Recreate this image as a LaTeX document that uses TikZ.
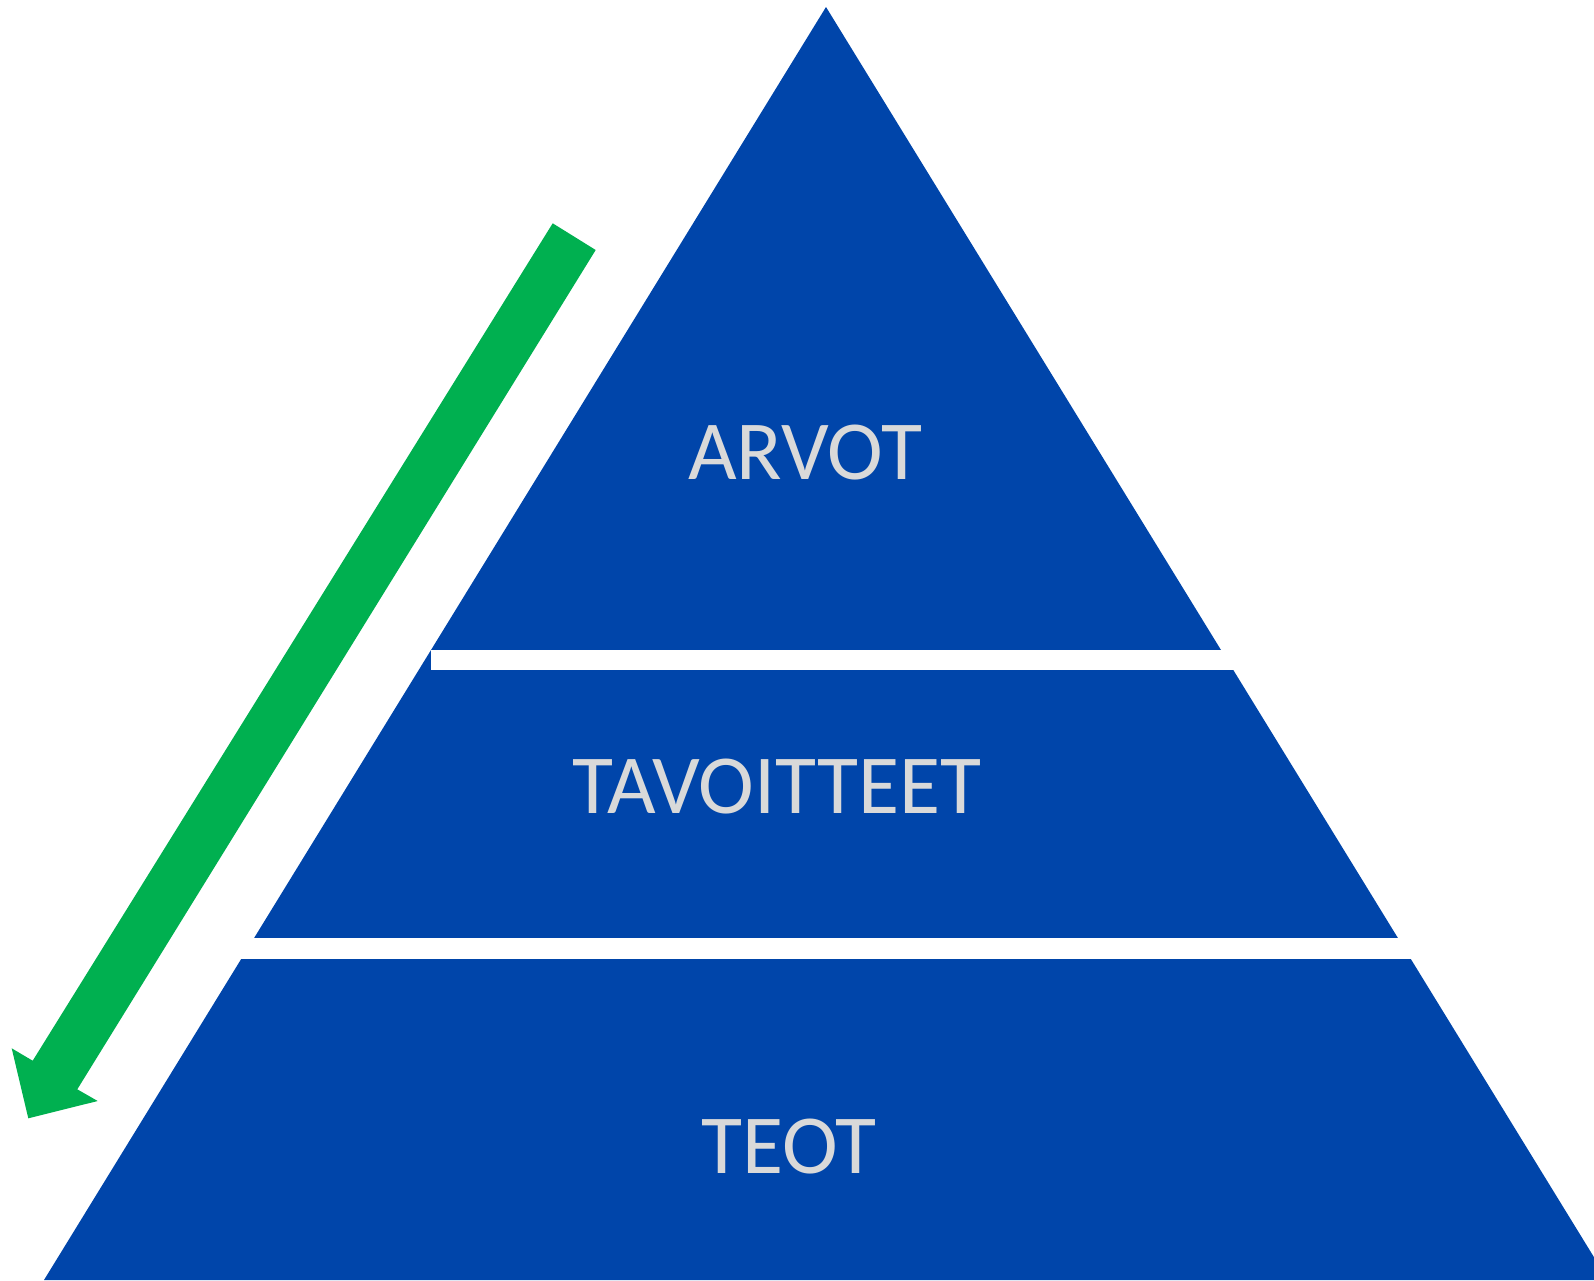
\documentclass[tikz,border=0pt]{standalone}
\usepackage{fontspec}
\setmainfont{Carlito}
\definecolor{pyrblue}{HTML}{0045AA}
\definecolor{arrgreen}{HTML}{00B050}
\definecolor{labgray}{HTML}{D9D9D9}
\begin{document}
\begin{tikzpicture}[x=0.5pt,y=-0.5pt,
  lab/.style={text=labgray,font=\fontsize{42pt}{50pt}\selectfont,inner sep=0pt,anchor=center}]
\useasboundingbox (0,0) rectangle (1594,1280);
\begin{scope}
\clip (0,0) rectangle (1594,1280);
% pyramid
\fill[pyrblue] (826,7) -- (44,1280) -- (1608,1280) -- cycle;
% white separators
\fill[white] (431,650) rectangle (1600,670);
\fill[white] (0,938) rectangle (1600,959);
\end{scope}
% green arrow
\fill[arrgreen] (552.7,223.3) -- (595.7,250) -- (77.3,1089.3) -- (97.7,1101)
  -- (28.3,1118.3) -- (11.7,1048.3) -- (32.7,1060.7) -- cycle;
% labels
\node[lab] (arvot) at (805,453) {ARVOT};
\node[lab] (tavoitteet) at (777,787) {TAVOITTEET};
\node[lab] (teot) at (789,1147) {TEOT};
\end{tikzpicture}
\end{document}
